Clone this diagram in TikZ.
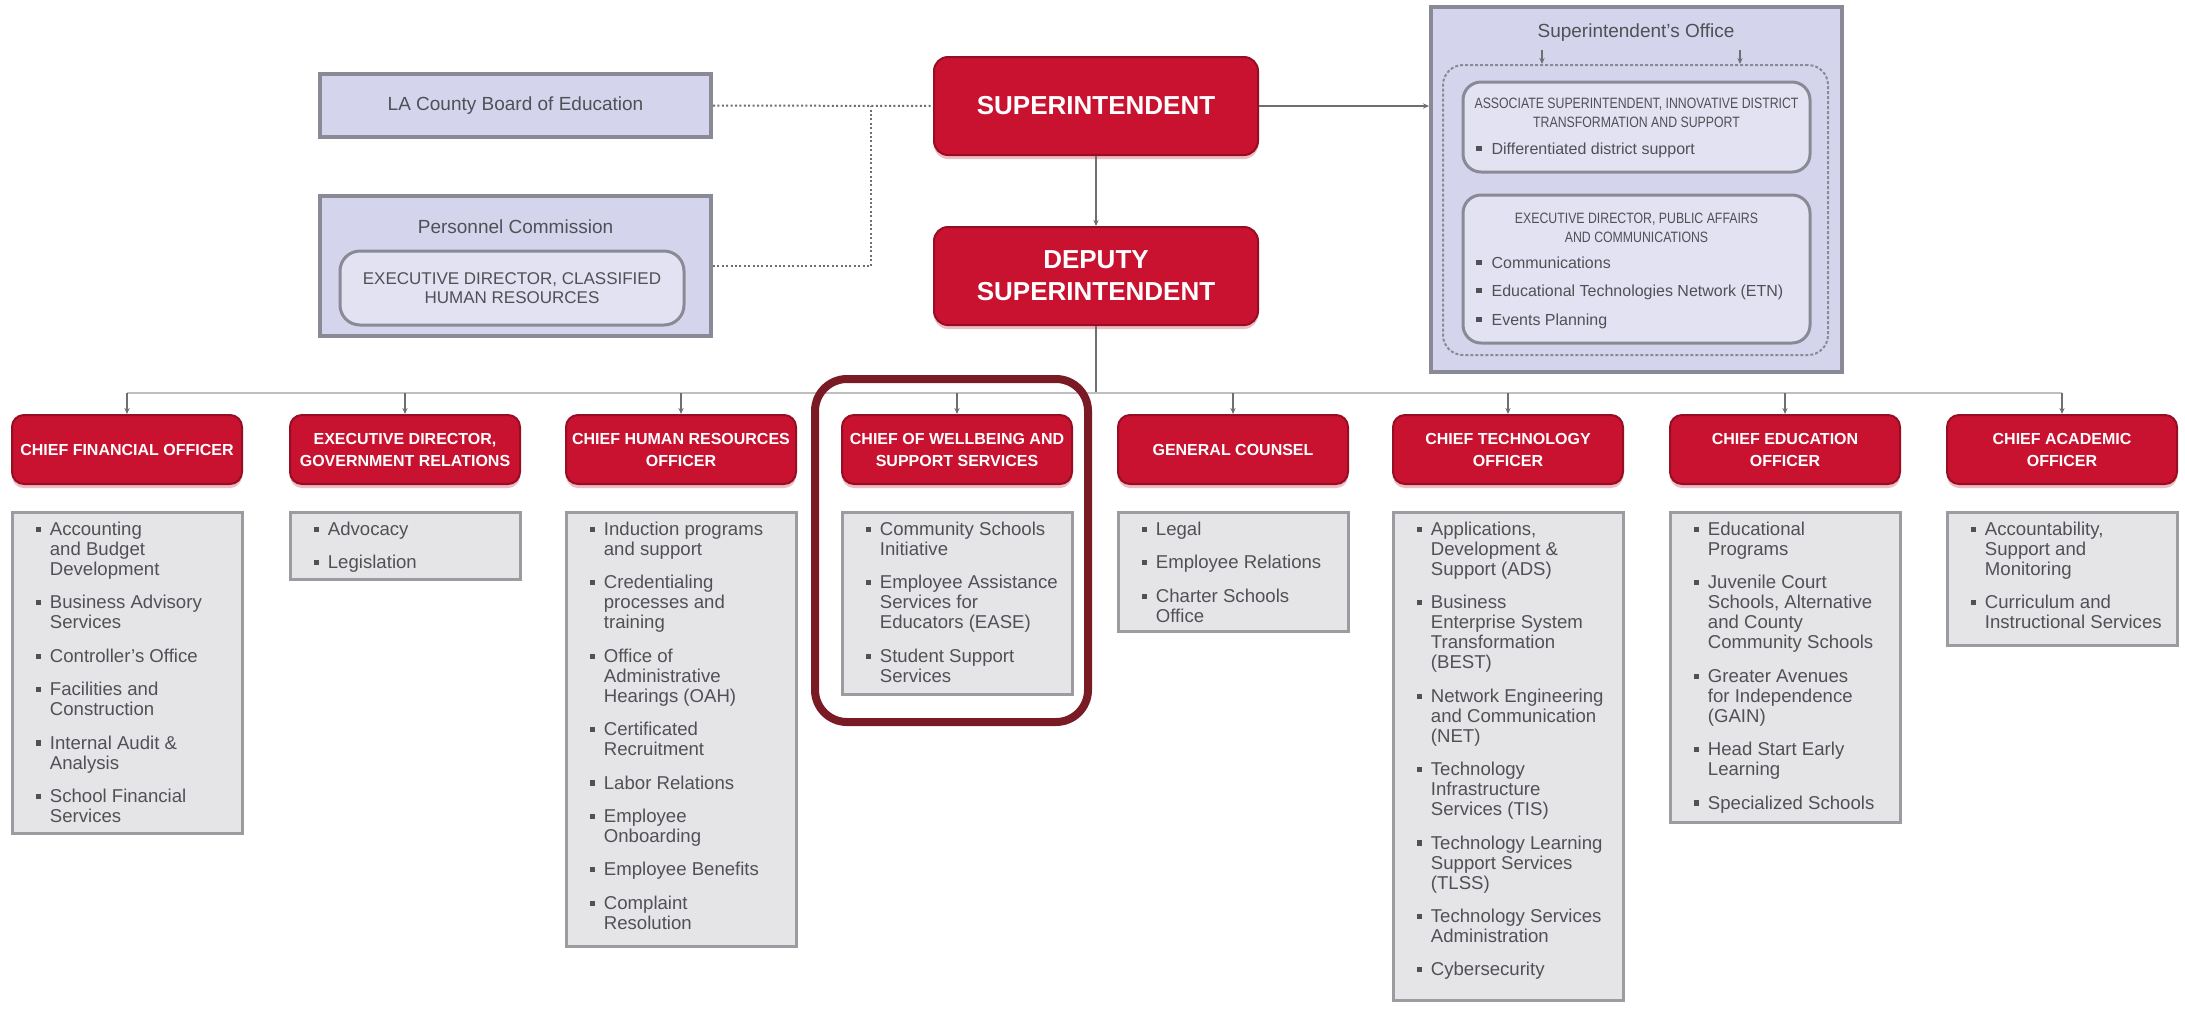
\documentclass[tikz,border=0pt]{standalone}
\usepackage{fontspec}
\setmainfont{Liberation Sans}
\newfontfamily\condfont[FakeStretch=0.82]{Liberation Sans}
\usetikzlibrary{calc,shadows,arrows.meta}

\definecolor{redfill}{RGB}{200,18,48}
\definecolor{redline}{RGB}{150,14,36}
\definecolor{lavfill}{RGB}{212,213,236}
\definecolor{lavline}{RGB}{138,138,150}
\definecolor{innerfill}{RGB}{226,226,242}
\definecolor{listfill}{RGB}{229,229,232}
\definecolor{listline}{RGB}{155,155,160}
\definecolor{txtgray}{RGB}{80,80,86}
\definecolor{hilite}{RGB}{122,26,37}
\definecolor{conn}{RGB}{110,110,115}

\newcommand{\bsq}{\raisebox{1.7pt}{\textcolor{txtgray}{\rule{2.6pt}{2.6pt}}}}
\newcommand{\isep}{\\[6.7pt]}
\newcommand{\osep}{\\[4.2pt]}

\tikzset{
  redbox/.style={fill=redfill, draw=redline, line width=1pt, rounded corners=6pt,
    text=white, align=center,
    drop shadow={shadow xshift=0pt, shadow yshift=-2pt, fill=redfill!40, opacity=0.7}},
  header/.style={redbox, minimum width=115pt, minimum height=34.5pt, inner sep=2pt,
    font=\bfseries\fontsize{8}{11}\selectfont},
  bigred/.style={redbox, minimum width=162pt, minimum height=49pt, rounded corners=7pt,
    font=\bfseries\fontsize{13}{16}\selectfont},
  lavbox/.style={fill=lavfill, draw=lavline, line width=2pt},
  innerbox/.style={fill=innerfill, draw=lavline, line width=1.5pt, rounded corners=9pt},
  listbox/.style={fill=listfill, draw=listline, line width=1.5pt, minimum width=115pt,
    anchor=north, inner sep=0pt},
  listtext/.style={anchor=north west, inner sep=0pt, text=txtgray,
    font=\fontsize{9.3}{10}\selectfont},
  graytext/.style={text=txtgray, inner sep=0pt},
  dotline/.style={draw=conn, line width=1pt, dash pattern=on 1pt off 1.2pt},
  conline/.style={draw=conn, line width=1pt},
  tip/.style={-{Stealth[length=3pt,width=2.6pt]}},
  busline/.style={draw=black!25, line width=0.8pt}
}

\begin{document}
\begin{tikzpicture}[x=0.5pt,y=-0.5pt]
\fill[white] (0,0) rectangle (2185,1008);
\useasboundingbox (0,0) rectangle (2185,1008);

% ---------- top level ----------
\node[bigred] (sup) at (1096,106) {SUPERINTENDENT};
\node[bigred] (dep) at (1096,276) {DEPUTY\\SUPERINTENDENT};

\node[lavbox, minimum width=195.5pt, minimum height=31.5pt, graytext,
      font=\fontsize{9.5}{11}\selectfont] (la) at (515.5,105.5) {LA County Board of Education};

\node[lavbox, minimum width=195.5pt, minimum height=70pt] (pc) at (515.5,266) {};
\node[graytext, font=\fontsize{9.5}{11}\selectfont] (pct) at (515.5,227) {Personnel Commission};
\node[innerbox, rounded corners=10pt, minimum width=172pt, minimum height=37pt, align=center,
      graytext, font=\fontsize{8.5}{9.75}\selectfont] (pci) at (512,288)
      {EXECUTIVE DIRECTOR, CLASSIFIED\\HUMAN RESOURCES};

% ---------- superintendent's office ----------
\node[lavbox, minimum width=205.5pt, minimum height=182.5pt] (so) at (1636.5,189.5) {};
\node[graytext, font=\fontsize{9.5}{11}\selectfont] (sot) at (1636,33) {Superintendent's Office};
\node[draw=lavline, line width=1pt, dash pattern=on 1.5pt off 1pt, rounded corners=10pt,
      minimum width=192.5pt, minimum height=145pt] (sod) at (1635.5,210) {};
\node[innerbox, minimum width=173.5pt, minimum height=45pt] (ib1) at (1636.5,127) {};
\node[innerbox, minimum width=173.5pt, minimum height=74pt] (ib2) at (1636.5,269) {};
\node[graytext, align=center, font=\condfont\fontsize{7.5}{9.5}\selectfont] (ib1t) at (1636.5,112.5)
      {ASSOCIATE SUPERINTENDENT, INNOVATIVE DISTRICT\\TRANSFORMATION AND SUPPORT};
\node[graytext, anchor=west, font=\fontsize{8}{10}\selectfont] (ib1b) at (1476,150)
      {\bsq\hspace{5pt}Differentiated district support};
\node[graytext, align=center, font=\condfont\fontsize{7.5}{9.5}\selectfont] (ib2t) at (1636.5,227.5)
      {EXECUTIVE DIRECTOR, PUBLIC AFFAIRS\\AND COMMUNICATIONS};
\node[graytext, anchor=north west, font=\fontsize{8}{10}\selectfont] (ib2b) at (1476,254)
      {\begin{tabular}{@{}l@{\hspace{5pt}}l@{}}
        \bsq & Communications\osep
        \bsq & Educational Technologies Network (ETN)\osep
        \bsq & Events Planning
      \end{tabular}};
\coordinate (sa1) at (1542,50);
\coordinate (sa2) at (1740,50);
\draw[conline, line width=0.6pt, tip] (sa1) -- (sa1 |- sod.north);
\draw[conline, line width=0.6pt, tip] (sa2) -- (sa2 |- sod.north);

% ---------- connectors (top) ----------
\coordinate (j) at (871,106);
\draw[dotline] (la.east) -- (sup.west);
\draw[dotline] (pc.east) -| (j);
\draw[conline, tip] (sup.east) -- (sup.east -| so.west);
\draw[conline, tip] (sup.south) -- (dep.north);

% ---------- headers ----------
\node[header] (h1) at (127,449.5)  {CHIEF FINANCIAL OFFICER};
\node[header] (h2) at (405,449.5)  {EXECUTIVE DIRECTOR,\\GOVERNMENT RELATIONS};
\node[header] (h3) at (681,449.5)  {CHIEF HUMAN RESOURCES\\OFFICER};
\node[header] (h4) at (957,449.5)  {CHIEF OF WELLBEING AND\\SUPPORT SERVICES};
\node[header] (h5) at (1233,449.5) {GENERAL COUNSEL};
\node[header] (h6) at (1508,449.5) {CHIEF TECHNOLOGY\\OFFICER};
\node[header] (h7) at (1785,449.5) {CHIEF EDUCATION\\OFFICER};
\node[header] (h8) at (2062,449.5) {CHIEF ACADEMIC\\OFFICER};

\coordinate (bus) at (1096,393);
\draw[conline] (dep.south) -- (bus);
\draw[busline] (h1.north |- bus) -- (h8.north |- bus);
\foreach \h in {h1,h2,h3,h4,h5,h6,h7,h8}{
  \draw[conline, line width=0.8pt, tip] (\h.north |- bus) -- (\h.north);
}

% ---------- lists ----------
\node[listbox, minimum height=160.5pt] (l1) at (127,511) {};
\node[listbox, minimum height=33.5pt]  (l2) at (405,511) {};
\node[listbox, minimum height=217pt]   (l3) at (681,511) {};
\node[listbox, minimum height=91pt]    (l4) at (957,511) {};
\node[listbox, minimum height=59.5pt]  (l5) at (1233,511) {};
\node[listbox, minimum height=244pt]   (l6) at (1508,511) {};
\node[listbox, minimum height=155pt]   (l7) at (1785,511) {};
\node[listbox, minimum height=66.5pt]  (l8) at (2062,511) {};

\node[listtext] (t1) at ($(l1.north west)+(25,10)$) {\begin{tabular}{@{}l@{\hspace{4.4pt}}l@{}}
  \bsq & Accounting\\ & and Budget\\ & Development\isep
  \bsq & Business Advisory\\ & Services\isep
  \bsq & Controller's Office\isep
  \bsq & Facilities and\\ & Construction\isep
  \bsq & Internal Audit \&\\ & Analysis\isep
  \bsq & School Financial\\ & Services
\end{tabular}};

\node[listtext] (t2) at ($(l2.north west)+(25,10)$) {\begin{tabular}{@{}l@{\hspace{4.4pt}}l@{}}
  \bsq & Advocacy\isep
  \bsq & Legislation
\end{tabular}};

\node[listtext] (t3) at ($(l3.north west)+(25,10)$) {\begin{tabular}{@{}l@{\hspace{4.4pt}}l@{}}
  \bsq & Induction programs\\ & and support\isep
  \bsq & Credentialing\\ & processes and\\ & training\isep
  \bsq & Office of\\ & Administrative\\ & Hearings (OAH)\isep
  \bsq & Certificated\\ & Recruitment\isep
  \bsq & Labor Relations\isep
  \bsq & Employee\\ & Onboarding\isep
  \bsq & Employee Benefits\isep
  \bsq & Complaint\\ & Resolution
\end{tabular}};

\node[listtext] (t4) at ($(l4.north west)+(25,10)$) {\begin{tabular}{@{}l@{\hspace{4.4pt}}l@{}}
  \bsq & Community Schools\\ & Initiative\isep
  \bsq & Employee Assistance\\ & Services for\\ & Educators (EASE)\isep
  \bsq & Student Support\\ & Services
\end{tabular}};

\node[listtext] (t5) at ($(l5.north west)+(25,10)$) {\begin{tabular}{@{}l@{\hspace{4.4pt}}l@{}}
  \bsq & Legal\isep
  \bsq & Employee Relations\isep
  \bsq & Charter Schools\\ & Office
\end{tabular}};

\node[listtext] (t6) at ($(l6.north west)+(25,10)$) {\begin{tabular}{@{}l@{\hspace{4.4pt}}l@{}}
  \bsq & Applications,\\ & Development \&\\ & Support (ADS)\isep
  \bsq & Business\\ & Enterprise System\\ & Transformation\\ & (BEST)\isep
  \bsq & Network Engineering\\ & and Communication\\ & (NET)\isep
  \bsq & Technology\\ & Infrastructure\\ & Services (TIS)\isep
  \bsq & Technology Learning\\ & Support Services\\ & (TLSS)\isep
  \bsq & Technology Services\\ & Administration\isep
  \bsq & Cybersecurity
\end{tabular}};

\node[listtext] (t7) at ($(l7.north west)+(25,10)$) {\begin{tabular}{@{}l@{\hspace{4.4pt}}l@{}}
  \bsq & Educational\\ & Programs\isep
  \bsq & Juvenile Court\\ & Schools, Alternative\\ & and County\\ & Community Schools\isep
  \bsq & Greater Avenues\\ & for Independence\\ & (GAIN)\isep
  \bsq & Head Start Early\\ & Learning\isep
  \bsq & Specialized Schools
\end{tabular}};

\node[listtext] (t8) at ($(l8.north west)+(25,10)$) {\begin{tabular}{@{}l@{\hspace{4.4pt}}l@{}}
  \bsq & Accountability,\\ & Support and\\ & Monitoring\isep
  \bsq & Curriculum and\\ & Instructional Services
\end{tabular}};

% ---------- highlight ----------
\node[draw=hilite, line width=4pt, rounded corners=16pt, minimum width=136.5pt,
      minimum height=171.5pt] (hl) at (951.5,550.5) {};
\end{tikzpicture}
\end{document}
